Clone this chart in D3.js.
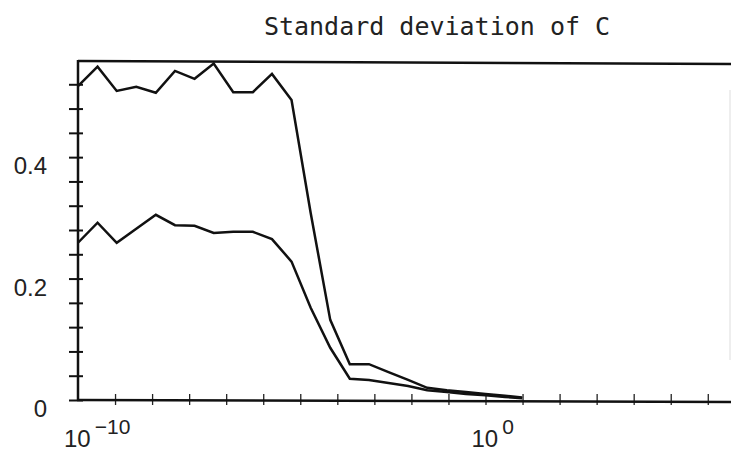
<!DOCTYPE html>
<head>
  <meta charset="utf-8">
  <script src="https://d3js.org/d3.v7.min.js"></script>
  <style>
    body { margin:0; background:#fff; }
  </style>
</head>
<body>
<script>

  // data (x as powers of ten)
  var exponents = [-10, -9.52, -9.05, -8.57, -8.09, -7.62, -7.14, -6.67, -6.19, -5.71, -5.24, -4.76,
                   -4.29, -3.81, -3.33, -2.86, -2.38, -1.90, -1.43, -0.95, -0.48, 0, 0.48, 0.9];
  var upper = [0.517, 0.549, 0.509, 0.516, 0.506, 0.542, 0.529, 0.554, 0.507, 0.507, 0.537, 0.494,
               0.308, 0.132, 0.059, 0.059, 0.046, 0.033, 0.020, 0.016, 0.013, 0.010, 0.007, 0.004];
  var lower = [0.259, 0.292, 0.259, 0.282, 0.305, 0.288, 0.287, 0.275, 0.277, 0.277, 0.265, 0.228,
               0.152, 0.086, 0.035, 0.033, 0.028, 0.023, 0.016, 0.013, 0.010, 0.008, 0.005, 0.003];

  var yTicks = [0, 0.04, 0.08, 0.12, 0.16, 0.2, 0.24, 0.28, 0.32, 0.36, 0.4, 0.44, 0.48, 0.52];
  var yLabels = [0, 0.2, 0.4];
  var xLabelExps = [-10, 0];
  var title = "Standard deviation of C";

  var W = 731, H = 455;
  var pLeft = 78, pRight = 730, pTop = 60, pBottom = 400;

  var svg = d3.select("body").append("svg")
    .attr("width", W)
    .attr("height", H);

  var x = d3.scaleLog().domain([1e-10, 1e6]).range([pLeft, pRight]);
  var y = d3.scaleLinear().domain([0, 0.56]).range([pBottom, pTop]);

  // x ticks come 11 to every 10 decades on the original
  var xTicks = d3.range(1, 18).map(function(k) { return Math.pow(10, -10 + k * 10 / 11); });

  var line = d3.line()
    .x(function(d) { return x(Math.pow(10, d[0])); })
    .y(function(d) { return y(d[1]); });

  // frame: top and faint right side
  svg.append("line")
    .attr("x1", pLeft).attr("x2", W)
    .attr("y1", pTop + 1).attr("y2", pTop + 4)
    .attr("stroke", "#111").attr("stroke-width", 2.5);
  svg.append("line")
    .attr("x1", pRight).attr("x2", pRight)
    .attr("y1", pTop + 30).attr("y2", pBottom - 40)
    .attr("stroke", "#ddd").attr("stroke-width", 1);

  // y axis
  var yAxis = svg.append("g")
    .attr("transform", "translate(" + pLeft + ",0)")
    .call(d3.axisLeft(y).tickValues(yTicks).tickSize(9).tickPadding(22)
      .tickFormat(function(d) { return yLabels.indexOf(d) >= 0 ? (d === 0 ? "0" : d3.format(".1f")(d)) : ""; }));
  yAxis.select(".domain").remove();
  yAxis.selectAll(".tick line").attr("x1", 5).attr("stroke", "#111").attr("stroke-width", 2);
  yAxis.selectAll(".tick text")
    .attr("dy", "0.7em")
    .style("font-family", "Liberation Sans, Arial, sans-serif")
    .style("font-size", "24px")
    .attr("fill", "#222");
  svg.append("line")
    .attr("x1", pLeft).attr("x2", pLeft)
    .attr("y1", pTop).attr("y2", pBottom + 1)
    .attr("stroke", "#111").attr("stroke-width", 2.5);

  // x axis
  var xAxis = svg.append("g")
    .attr("transform", "translate(0," + pBottom + ")")
    .call(d3.axisBottom(x).tickValues(xTicks).tickSize(5).tickFormat(""));
  xAxis.select(".domain").remove();
  xAxis.selectAll(".tick line").attr("y1", -6).attr("stroke", "#222").attr("stroke-width", 1.3);
  svg.append("line")
    .attr("x1", pLeft - 1).attr("x2", W)
    .attr("y1", pBottom).attr("y2", pBottom + 2)
    .attr("stroke", "#111").attr("stroke-width", 2.5);

  // x labels as 10^n
  var xl = svg.selectAll(".xlab").data(xLabelExps).enter()
    .append("text")
    .attr("class", "xlab")
    .attr("x", function(d) { return x(Math.pow(10, d)) - 14; })
    .attr("y", 447)
    .style("font-family", "Liberation Sans, Arial, sans-serif")
    .style("font-size", "24px")
    .attr("fill", "#222");
  xl.append("tspan").text("10");
  xl.append("tspan")
    .attr("dx", 4)
    .attr("dy", -13)
    .style("font-size", "21px")
    .text(function(d) { return d < 0 ? "\u2212" + (-d) : d; });

  // title
  svg.append("text")
    .attr("x", 437)
    .attr("y", 35)
    .attr("text-anchor", "middle")
    .style("font-family", "DejaVu Sans Mono, monospace")
    .style("font-size", "25px")
    .attr("fill", "#222")
    .text(title);

  // the two curves
  [upper, lower].forEach(function(vals) {
    svg.append("path")
      .datum(exponents.map(function(e, i) { return [e, vals[i]]; }))
      .attr("d", line)
      .attr("fill", "none")
      .attr("stroke", "#111")
      .attr("stroke-width", 2.5)
      .attr("stroke-linejoin", "miter");
  });

</script>
</body>
